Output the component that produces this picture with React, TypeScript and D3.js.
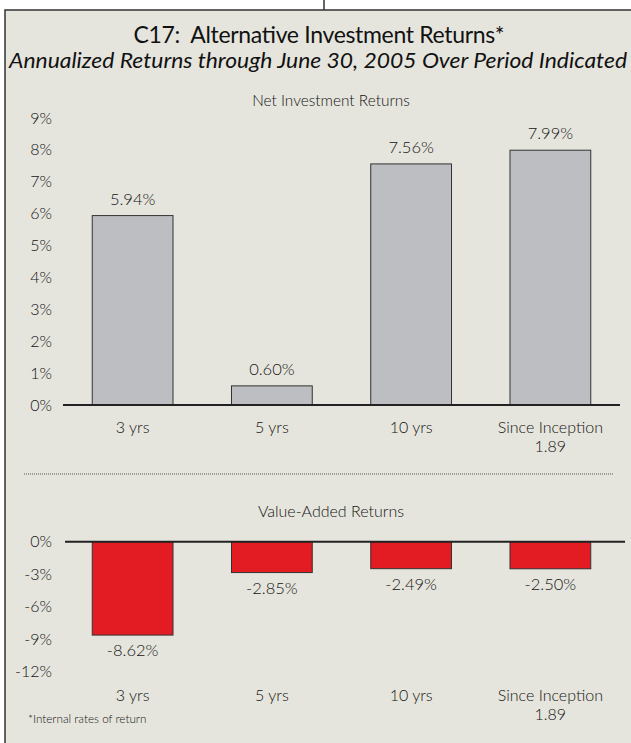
import React from "react";
import { scaleBand, scaleLinear } from "d3";

// chart values
const periods = ["3 yrs", "5 yrs", "10 yrs", "Since Inception"];
const periodNotes = ["", "", "", "1.89"];
const netReturns = [5.94, 0.6, 7.56, 7.99];
const valueAdded = [-8.62, -2.85, -2.49, -2.5];
const netTicks = [0, 1, 2, 3, 4, 5, 6, 7, 8, 9];
const valueTicks = [0, -3, -6, -9, -12];

const W = 631;
const H = 743;
const FONT = "Lato, 'Open Sans', sans-serif";
const INK = "#141414";

function fmt(v: number) {
    return v.toFixed(2) + "%";
}

export default function App() {
    const x = scaleBand<string>()
        .domain(periods)
        .range([63, 620])
        .paddingInner(0.42)
        .paddingOuter(0.21);
    const yTop = scaleLinear().domain([0, 9]).range([405, 118]);
    const yBot = scaleLinear().domain([-12, 0]).range([671.7, 541.7]);

    const catLabels = (base: number) =>
        periods.map((p, i) => (
            <g key={p}>
                <text x={x(p)! + x.bandwidth() / 2} y={base} textAnchor="middle" fontSize={16} fill={INK}>{p}</text>
                {periodNotes[i] && (
                    <text x={x(p)! + x.bandwidth() / 2} y={base + 19} textAnchor="middle" fontSize={16} fill={INK}>{periodNotes[i]}</text>
                )}
            </g>
        ));

    return (
        <svg width={W} height={H} style={{ position: "absolute", left: 0, top: 0, fontFamily: FONT, fontWeight: 300 }}>
            <rect x={0} y={0} width={W} height={H} fill="#fff" />
            <line x1={324} y1={0} x2={324} y2={10} stroke="#333" strokeWidth={1.5} />
            <rect x={5} y={10} width={W + 20} height={H + 20} fill="#e5e5dd" stroke="#333" strokeWidth={1.5} />

            <text x={319} y={43} textAnchor="middle" fontSize={23} fontWeight={400} fill="#111"
                textLength={371} lengthAdjust="spacing">{"C17:\u00a0 Alternative Investment Returns*"}</text>
            <text x={318} y={68} textAnchor="middle" fontSize={21} fontWeight={400} fontStyle="italic" fill="#111"
                textLength={618} lengthAdjust="spacingAndGlyphs">Annualized Returns through June 30, 2005 Over Period Indicated</text>

            {/* net investment returns */}
            <text x={331} y={106} textAnchor="middle" fontSize={15.4} fill={INK}>Net Investment Returns</text>
            {netTicks.map(t => (
                <text key={t} x={52} y={yTop(t)} dy="0.35em" textAnchor="end" fontSize={16} fill={INK}>{t}%</text>
            ))}
            {periods.map((p, i) => (
                <g key={p}>
                    <rect x={x(p)} y={yTop(netReturns[i])} width={x.bandwidth()} height={yTop(0) - yTop(netReturns[i])}
                        fill="#bdbec2" stroke="#333" strokeWidth={1} />
                    <text x={x(p)! + x.bandwidth() / 2} y={yTop(netReturns[i]) - 11} textAnchor="middle" fontSize={16.5} fill={INK}>{fmt(netReturns[i])}</text>
                </g>
            ))}
            <line x1={63} x2={620} y1={yTop(0)} y2={yTop(0)} stroke="#222" strokeWidth={2} />
            {catLabels(432.5)}

            <line x1={24} x2={614} y1={474} y2={474} stroke="#555" strokeWidth={1} strokeDasharray="1,1" />

            {/* value-added returns */}
            <text x={331} y={517} textAnchor="middle" fontSize={16} fill={INK}>Value-Added Returns</text>
            {valueTicks.map(t => (
                <text key={t} x={52} y={yBot(t)} dy="0.35em" textAnchor="end" fontSize={16} fill={INK}>{t}%</text>
            ))}
            {periods.map((p, i) => (
                <g key={p}>
                    <rect x={x(p)} y={yBot(0)} width={x.bandwidth()} height={yBot(valueAdded[i]) - yBot(0)}
                        fill="#e31b23" stroke="#333" strokeWidth={1} />
                    <text x={x(p)! + x.bandwidth() / 2} y={yBot(valueAdded[i]) + 21} textAnchor="middle" fontSize={16.5} fill={INK}>{fmt(valueAdded[i])}</text>
                </g>
            ))}
            <line x1={65} x2={625} y1={yBot(0)} y2={yBot(0)} stroke="#222" strokeWidth={2} />
            {catLabels(700.5)}

            <text x={28} y={723} fontSize={11.7} fill={INK}>*Internal rates of return</text>
        </svg>
    );
}
